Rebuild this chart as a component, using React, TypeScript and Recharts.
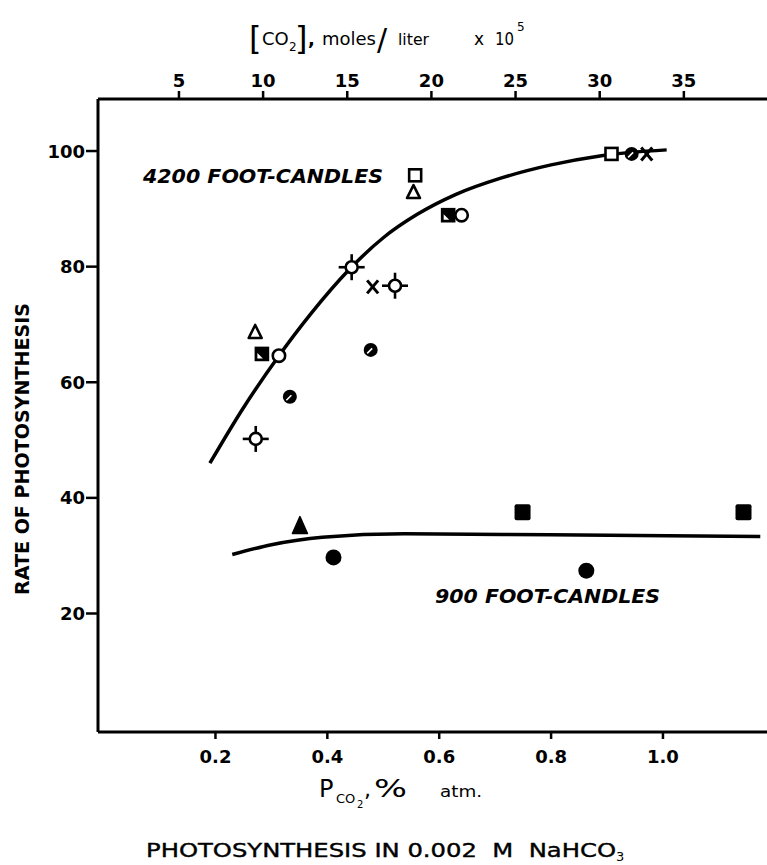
import React from 'react';
import { ComposedChart, XAxis, YAxis, Line, Scatter } from 'recharts';

const FONT = '"DejaVu Sans", "Liberation Sans", sans-serif';

// ---- axis ticks ----
const pTicks = [0.2, 0.4, 0.6, 0.8, 1.0];
const pTickLabels = ['0.2', '0.4', '0.6', '0.8', '1.0'];
const co2Ticks = [5, 10, 15, 20, 25, 30, 35];
const rateTicks = [20, 40, 60, 80, 100];

// ---- 4200 foot-candles: points (p = Pco2 % atm, r = rate) ----
const openSquare4200 = [
  { p: 0.557, r: 95.8 },
  { p: 0.908, r: 99.5 },
];
const openTriangle4200 = [
  { p: 0.554, r: 92.9 },
  { p: 0.271, r: 68.7 },
];
const halfSquare4200 = [
  { p: 0.616, r: 88.9 },
  { p: 0.283, r: 64.9 },
];
const openCircle4200 = [
  { p: 0.64, r: 88.9 },
  { p: 0.3135, r: 64.6 },
];
const crossCircle4200 = [
  { p: 0.4435, r: 79.9 },
  { p: 0.521, r: 76.7 },
  { p: 0.272, r: 50.2 },
];
const cross4200 = [
  { p: 0.481, r: 76.5 },
  { p: 0.971, r: 99.5 },
];
const halfCircle4200 = [
  { p: 0.4775, r: 65.6 },
  { p: 0.333, r: 57.5 },
  { p: 0.944, r: 99.5 },
];

// ---- 900 foot-candles: points ----
const filledTriangle900 = [{ p: 0.351, r: 35.2 }];
const filledCircle900 = [
  { p: 0.411, r: 29.7 },
  { p: 0.863, r: 27.4 },
];
const filledSquare900 = [
  { p: 0.749, r: 37.5 },
  { p: 1.144, r: 37.5 },
];

// ---- hand-drawn curves ----
const curve4200 = [
  { p: 0.19, r: 46 },
  { p: 0.25, r: 55.6 },
  { p: 0.3135, r: 64.6 },
  { p: 0.37, r: 71.8 },
  { p: 0.44, r: 79.6 },
  { p: 0.5, r: 85 },
  { p: 0.56, r: 89 },
  { p: 0.63, r: 92.5 },
  { p: 0.71, r: 95.3 },
  { p: 0.8, r: 97.6 },
  { p: 0.89, r: 99.2 },
  { p: 1.0066, r: 100.2 },
];
const curve900 = [
  { p: 0.23, r: 30.2 },
  { p: 0.3, r: 31.9 },
  { p: 0.391, r: 33.2 },
  { p: 0.538, r: 33.8 },
  { p: 0.8, r: 33.6 },
  { p: 1.174, r: 33.3 },
];

// ---- marker shapes ----
const SW = 2.6;
const OpenSquare = ({ cx, cy }: any) => (
  <rect x={cx - 6} y={cy - 6} width={12} height={12} fill="#fff" stroke="#000" strokeWidth={SW} />
);
const OpenTriangle = ({ cx, cy }: any) => (
  <polygon
    points={`${cx},${cy - 7} ${cx + 6.5},${cy + 6} ${cx - 6.5},${cy + 6}`}
    fill="#fff"
    stroke="#000"
    strokeWidth={SW}
    strokeLinejoin="round"
  />
);
const HalfSquare = ({ cx, cy }: any) => (
  <g>
    <rect x={cx - 6} y={cy - 6} width={12} height={12} fill="#000" stroke="#000" strokeWidth={SW} />
    <polygon points={`${cx - 4.5},${cy - 1} ${cx - 4.5},${cy + 4.5} ${cx + 1},${cy + 4.5}`} fill="#fff" />
  </g>
);
const OpenCircle = ({ cx, cy }: any) => (
  <circle cx={cx} cy={cy} r={6.2} fill="#fff" stroke="#000" strokeWidth={SW} />
);
const HalfCircle = ({ cx, cy }: any) => (
  <g>
    <circle cx={cx} cy={cy} r={7} fill="#000" />
    <line x1={cx - 3.5} y1={cy + 3.5} x2={cx + 1.5} y2={cy - 1.5} stroke="#fff" strokeWidth={1.6} />
  </g>
);
const CrossCircle = ({ cx, cy }: any) => (
  <g stroke="#000" strokeWidth={SW}>
    <line x1={cx} y1={cy - 6} x2={cx} y2={cy - 13} />
    <line x1={cx} y1={cy + 6} x2={cx} y2={cy + 13} />
    <line x1={cx - 6} y1={cy} x2={cx - 13} y2={cy} />
    <line x1={cx + 6} y1={cy} x2={cx + 13} y2={cy} />
    <circle cx={cx} cy={cy} r={6} fill="#fff" />
  </g>
);
const Cross = ({ cx, cy }: any) => (
  <g stroke="#000" strokeWidth={3}>
    <line x1={cx - 5.5} y1={cy - 6.5} x2={cx + 5.5} y2={cy + 6.5} />
    <line x1={cx + 5.5} y1={cy - 6.5} x2={cx - 5.5} y2={cy + 6.5} />
  </g>
);
const FilledTriangle = ({ cx, cy }: any) => (
  <polygon
    points={`${cx},${cy - 9} ${cx + 7.5},${cy + 8} ${cx - 7.5},${cy + 8}`}
    fill="#000"
    stroke="#000"
    strokeWidth={1.5}
    strokeLinejoin="round"
  />
);
const FilledCircle = ({ cx, cy }: any) => <circle cx={cx} cy={cy} r={8} fill="#000" />;
const FilledSquare = ({ cx, cy }: any) => (
  <rect x={cx - 8} y={cy - 8} width={16} height={16} rx={2} fill="#000" />
);

// ---- ticks ----
const BottomTick = ({ x, payload }: any) => {
  const i = pTicks.indexOf(payload.value);
  return (
    <text x={x} y={763} textAnchor="middle" fontFamily={FONT} fontWeight="bold" fontSize={18} fill="#000">
      {i >= 0 ? pTickLabels[i] : payload.value}
    </text>
  );
};
const TopTick = ({ x, payload }: any) => (
  <text x={x} y={87} textAnchor="middle" fontFamily={FONT} fontWeight="bold" fontSize={18} fill="#000">
    {payload.value}
  </text>
);
const LeftTick = ({ y, payload }: any) => (
  <text x={85} y={y + 6.5} textAnchor="end" fontFamily={FONT} fontWeight="bold" fontSize={18} fill="#000">
    {payload.value}
  </text>
);

const axisLine = { stroke: '#000', strokeWidth: 3 };
const tickLine = { stroke: '#000', strokeWidth: 2.5 };

export default function App() {
  return (
    <div style={{ position: 'absolute', left: 0, top: 0, width: 767, height: 865, background: '#fff' }}>
      <ComposedChart width={767} height={865} margin={{ top: 69, right: 0, bottom: 103, left: 38 }}>
        <XAxis
          xAxisId="b"
          type="number"
          dataKey="p"
          domain={[-0.01, 1.186]}
          ticks={pTicks}
          allowDataOverflow
          height={30}
          axisLine={axisLine}
          tickLine={tickLine}
          tickSize={7}
          tick={<BottomTick />}
          interval={0}
        />
        <XAxis
          xAxisId="t"
          orientation="top"
          type="number"
          dataKey="c"
          domain={[0.19, 39.94]}
          ticks={co2Ticks}
          allowDataOverflow
          height={30}
          axisLine={axisLine}
          tickLine={tickLine}
          tickSize={8}
          tick={<TopTick />}
          interval={0}
        />
        <YAxis
          type="number"
          domain={[-0.5, 109]}
          ticks={rateTicks}
          allowDataOverflow
          width={60}
          axisLine={axisLine}
          tickLine={tickLine}
          tickSize={12}
          tick={<LeftTick />}
          interval={0}
        />
        <Line xAxisId="b" data={curve4200} dataKey="r" type="monotone" stroke="#000" strokeWidth={3.5} dot={false} activeDot={false} isAnimationActive={false} />
        <Line xAxisId="b" data={curve900} dataKey="r" type="monotone" stroke="#000" strokeWidth={3.5} dot={false} activeDot={false} isAnimationActive={false} />
        <Scatter xAxisId="b" data={crossCircle4200} dataKey="r" shape={(p: any) => <CrossCircle {...p} />} isAnimationActive={false} />
        <Scatter xAxisId="b" data={openSquare4200} dataKey="r" shape={(p: any) => <OpenSquare {...p} />} isAnimationActive={false} />
        <Scatter xAxisId="b" data={openTriangle4200} dataKey="r" shape={(p: any) => <OpenTriangle {...p} />} isAnimationActive={false} />
        <Scatter xAxisId="b" data={halfSquare4200} dataKey="r" shape={(p: any) => <HalfSquare {...p} />} isAnimationActive={false} />
        <Scatter xAxisId="b" data={openCircle4200} dataKey="r" shape={(p: any) => <OpenCircle {...p} />} isAnimationActive={false} />
        <Scatter xAxisId="b" data={cross4200} dataKey="r" shape={(p: any) => <Cross {...p} />} isAnimationActive={false} />
        <Scatter xAxisId="b" data={halfCircle4200} dataKey="r" shape={(p: any) => <HalfCircle {...p} />} isAnimationActive={false} />
        <Scatter xAxisId="b" data={filledTriangle900} dataKey="r" shape={(p: any) => <FilledTriangle {...p} />} isAnimationActive={false} />
        <Scatter xAxisId="b" data={filledCircle900} dataKey="r" shape={(p: any) => <FilledCircle {...p} />} isAnimationActive={false} />
        <Scatter xAxisId="b" data={filledSquare900} dataKey="r" shape={(p: any) => <FilledSquare {...p} />} isAnimationActive={false} />
      </ComposedChart>
      <svg
        width={767}
        height={865}
        style={{ position: 'absolute', left: 0, top: 0, pointerEvents: 'none' }}
        fontFamily={FONT}
      >
        {/* top axis title */}
        <text x={249} y={49} fontSize={32} fill="#000">[</text>
        <text x={262} y={45} fontSize={18} fill="#000">CO</text>
        <text x={289} y={51} fontSize={12} fill="#000">2</text>
        <text x={295} y={49} fontSize={32} fill="#000">]</text>
        <text x={308} y={45} fontSize={18} fontWeight="bold" fill="#000">,</text>
        <text x={322} y={45} fontSize={17} fill="#000" textLength={54} lengthAdjust="spacingAndGlyphs">moles</text>
        <text x={377} y={50} fontSize={30} fill="#000">/</text>
        <text x={398} y={45} fontSize={15} fill="#000" textLength={31} lengthAdjust="spacingAndGlyphs">liter</text>
        <text x={474} y={45} fontSize={17} fill="#000">x</text>
        <text x={495} y={45} fontSize={18} fill="#000" textLength={19} lengthAdjust="spacingAndGlyphs">10</text>
        <text x={517} y={31} fontSize={12} fill="#000">5</text>

        {/* series labels */}
        <text x={143} y={182.5} fontSize={20} fontStyle="italic" fontWeight="bold" fill="#000" textLength={240} lengthAdjust="spacingAndGlyphs">
          4200 FOOT-CANDLES
        </text>
        <text x={435} y={602.5} fontSize={20} fontStyle="italic" fontWeight="bold" fill="#000" textLength={225} lengthAdjust="spacingAndGlyphs">
          900 FOOT-CANDLES
        </text>

        {/* y axis title */}
        <text
          transform="translate(29,449) rotate(-90)"
          textAnchor="middle"
          fontSize={20}
          fontWeight="bold"
          fill="#000"
          textLength={292}
          lengthAdjust="spacingAndGlyphs"
        >
          RATE OF PHOTOSYNTHESIS
        </text>

        {/* x axis title */}
        <text x={319} y={797} fontSize={24} fill="#000">P</text>
        <text x={336} y={803} fontSize={13} fill="#000">CO</text>
        <text x={357} y={808} fontSize={10} fill="#000">2</text>
        <text x={364} y={797} fontSize={22} fill="#000">,</text>
        <text x={374} y={797} fontSize={24} fill="#000" textLength={33} lengthAdjust="spacingAndGlyphs">%</text>
        <text x={440} y={797} fontSize={16} fill="#000" textLength={42} lengthAdjust="spacingAndGlyphs">atm.</text>

        {/* caption */}
        <text
          x={146}
          y={857}
          fontSize={20}
          fill="#000"
          stroke="#000"
          strokeWidth={0.4}
          textLength={470}
          lengthAdjust="spacingAndGlyphs"
          style={{ whiteSpace: 'pre' }}
        >
          {'PHOTOSYNTHESIS IN 0.002  M  NaHCO'}
        </text>
        <text x={616} y={861} fontSize={13} fill="#000">3</text>
      </svg>
    </div>
  );
}
